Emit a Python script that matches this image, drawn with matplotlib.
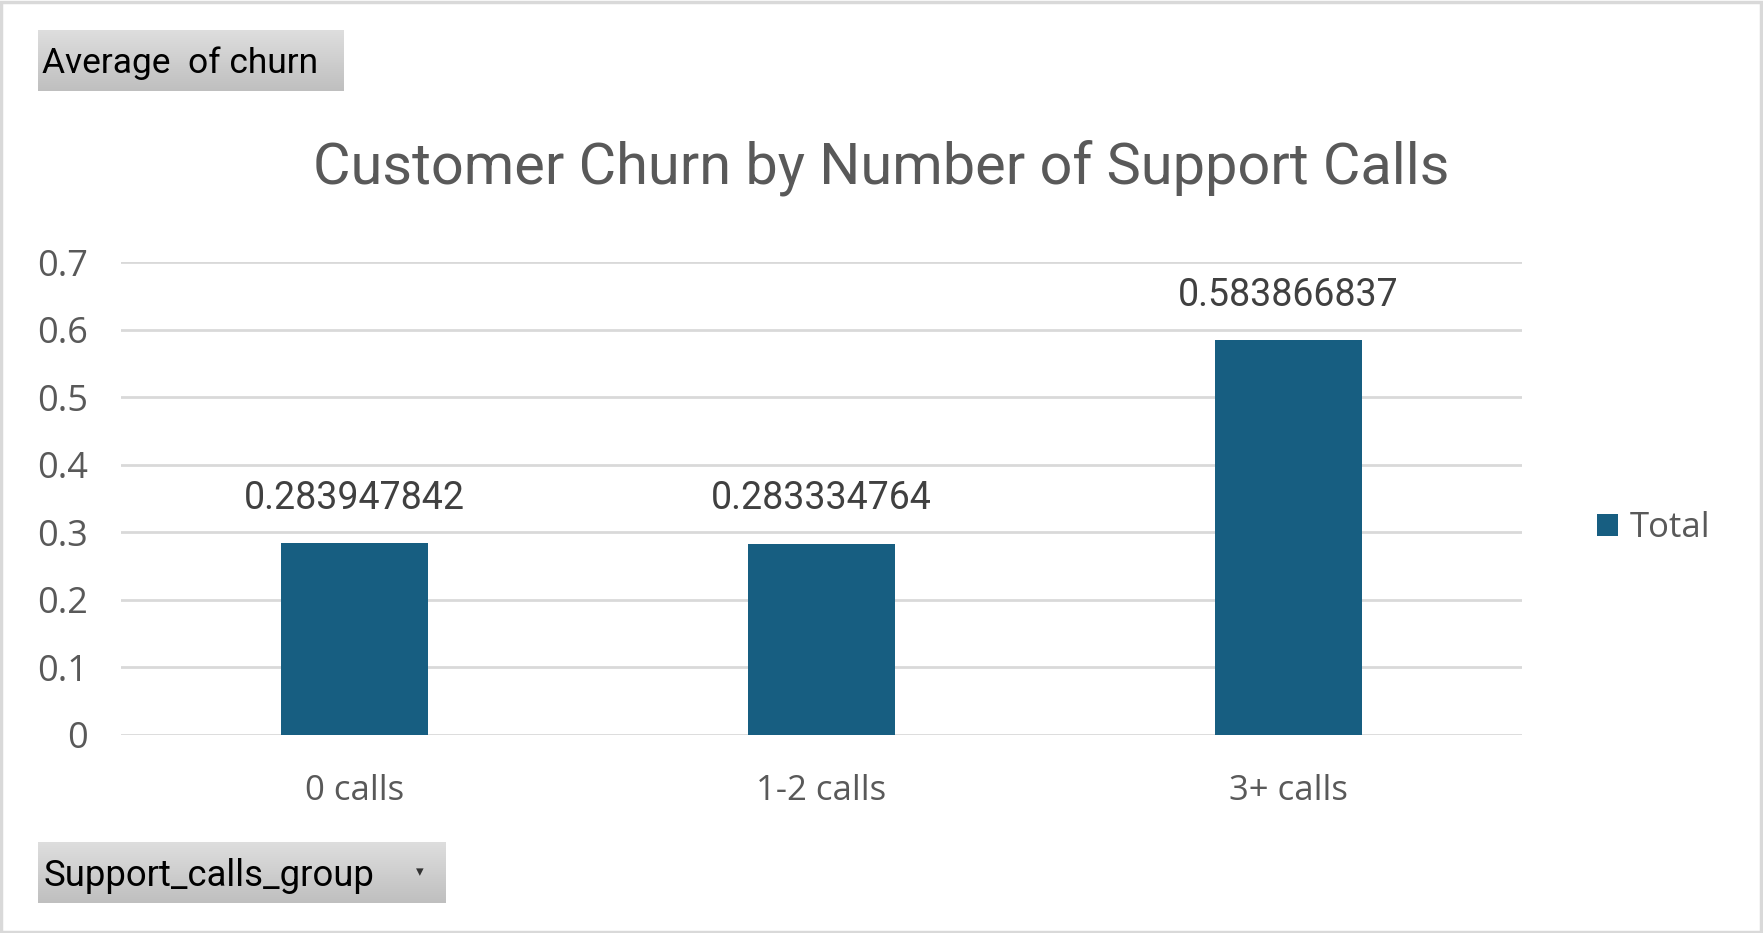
import matplotlib
matplotlib.use("Agg")
import matplotlib.pyplot as plt
import numpy as np
from matplotlib.patches import Rectangle

categories = ["0 calls", "1-2 calls", "3+ calls"]
churn_avg = [0.283947842, 0.283334764, 0.583866837]
y_ticks = [0, 0.1, 0.2, 0.3, 0.4, 0.5, 0.6, 0.7]

BAR_COLOR = "#175e81"
TEXT_GRAY = "#595959"
GRID_GRAY = "#d9d9d9"

W, H = 1763, 933
fig = plt.figure(figsize=(W / 100, H / 100), dpi=100)
fig.patch.set_facecolor("white")

narrow = ["Roboto", "DejaVu Sans"]
sans = ["Open Sans", "Noto Sans", "DejaVu Sans"]

# plot area
ax = fig.add_axes([121 / W, 198 / H, 1401 / W, 473 / H])
x = np.arange(len(categories))
bars = ax.bar(x, churn_avg, width=0.313, color=BAR_COLOR, zorder=3, label="Total")
ax.set_xlim(-0.5, len(categories) - 0.5)
ax.set_ylim(0, 0.7)
ax.set_yticks(y_ticks)
ax.set_yticklabels([f"{t:g}" for t in y_ticks], fontsize=26, color=TEXT_GRAY,
                   family=sans)
ax.set_xticks(x)
ax.set_xticklabels(categories, fontsize=25, color=TEXT_GRAY, family=sans)
ax.tick_params(axis="both", length=0)
ax.tick_params(axis="y", pad=24)
ax.tick_params(axis="x", pad=28)
ax.grid(axis="y", color=GRID_GRAY, linewidth=2, zorder=0)
for s in ax.spines.values():
    s.set_visible(False)

for xi, v in zip(x, churn_avg):
    ax.annotate(f"{v:.9f}", (xi, v), xytext=(0, 19), textcoords="offset points",
                ha="center", va="bottom", fontsize=27, color="#404040",
                family=["Roboto", "DejaVu Sans"])

leg = fig.legend(handles=[bars], labels=["Total"], loc="center left",
                 bbox_to_anchor=(1566 / W, 1 - 528 / H), frameon=False,
                 handlelength=0.6, handleheight=0.6, handletextpad=0.35,
                 prop={"family": sans, "size": 25})
for t in leg.get_texts():
    t.set_color(TEXT_GRAY)

fig.text(881 / W, 1 - 168 / H, "Customer Churn by Number of Support Calls",
         ha="center", va="center", fontsize=41.5, color=TEXT_GRAY, family=narrow)


def field_button(x0, y0, x1, y1, label, size, arrow=False):
    # pivot-chart field button with grey gradient
    bax = fig.add_axes([x0 / W, 1 - y1 / H, (x1 - x0) / W, (y1 - y0) / H])
    grad = np.linspace(0.87, 0.75, 64).reshape(-1, 1)
    bax.imshow(np.dstack([grad, grad, grad]), aspect="auto", extent=(0, 1, 0, 1))
    bax.set_xlim(0, 1)
    bax.set_ylim(0, 1)
    bax.axis("off")
    bax.text(0.014, 0.45, label, ha="left", va="center", fontsize=size,
             color="black", family=narrow, transform=bax.transAxes)
    if arrow:
        bax.text(0.935, 0.52, "▾", ha="center", va="center", fontsize=11,
                 color="#333333", transform=bax.transAxes)


field_button(38, 30, 343, 91, "Average  of churn", 25.5)
field_button(38, 842, 446, 903, "Support_calls_group", 26.3, arrow=True)

# outer chart border
fig.patches.append(Rectangle((1 / W, 1 / H), 1 - 3 / W, 1 - 3 / H,
                             transform=fig.transFigure, fill=False,
                             edgecolor=GRID_GRAY, linewidth=2.5))

fig.savefig("out.png", dpi=100)
